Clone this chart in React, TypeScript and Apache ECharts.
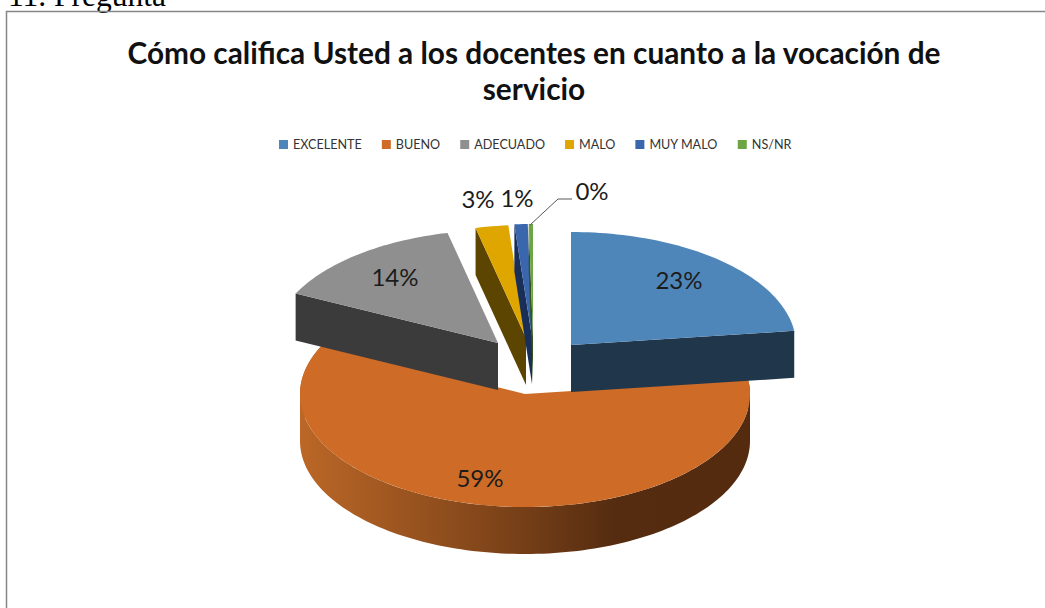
import React, { useEffect, useRef } from "react";
import * as echarts from "echarts";

const categories = ["EXCELENTE", "BUENO", "ADECUADO", "MALO", "MUY MALO", "NS/NR"];
const percentages = [23, 59.2, 14.2, 2.35, 0.95, 0.3];
const percentLabels = ["23%", "59%", "14%", "3%", "1%", "0%"];
const topColors = ["#4f86b9", "#cd6b27", "#8f8f8f", "#e0a600", "#3a66ae", "#6ca544"];
const wallColors = ["#20364b", "#7a4218", "#3b3b3b", "#5c4500", "#1a2f58", "#33521e"];
const explode = [[46, -49], [0, 0], [-27, -51], [1, -56], [7, -57], [8, -57]];
const labelPos = [[679, 279.5], [480, 477.5], [395, 276.5], [478, 198.5], [517, 197.5], [592, 190.5]];
const drawOrder = [1, 0, 2, 3, 4, 5];

const CX = 525, CY = 394, RX = 225, RY = 113, DEPTH = 47;
const FONT = "Lato";

function rimPoint(cx: number, cy: number, deg: number) {
  const r = (deg * Math.PI) / 180;
  return [cx + RX * Math.sin(r), cy - RY * Math.cos(r)];
}

function arcPoints(cx: number, cy: number, from: number, to: number) {
  const n = Math.max(2, Math.ceil(Math.abs(to - from) / 1.5));
  const pts: number[][] = [];
  for (let i = 0; i <= n; i++) pts.push(rimPoint(cx, cy, from + ((to - from) * i) / n));
  return pts;
}

function sliceElements(i: number) {
  const total = percentages.reduce((a, b) => a + b, 0);
  const before = percentages.slice(0, i).reduce((a, b) => a + b, 0);
  const a0 = (before / total) * 360;
  const a1 = ((before + percentages[i]) / total) * 360;
  const cx = CX + explode[i][0];
  const cy = CY + explode[i][1];
  const children: any[] = [];
  const wall = (points: number[][], fill: any) =>
    children.push({ type: "polygon", shape: { points }, style: { fill } });

  const down = (p: number[]) => [p[0], p[1] + DEPTH];
  const apex = [cx, cy];

  // rounded outer wall on the near half of the ellipse
  const frontFrom = Math.max(a0, 90);
  const frontTo = Math.min(a1, 270);
  if (frontTo > frontFrom) {
    const rim = arcPoints(cx, cy, frontFrom, frontTo);
    const fill =
      i === 1
        ? new echarts.graphic.LinearGradient(1, 0, 0, 0, [
            { offset: 0, color: "#542b0f" },
            { offset: 0.3, color: "#552c10" },
            { offset: 0.62, color: "#87491b" },
            { offset: 1, color: "#bb6727" },
          ])
        : wallColors[i];
    wall([...rim, ...rim.slice().reverse().map(down)], fill);
  }
  // orange has its right end going slightly above the horizontal
  if (i === 1) {
    const rim = arcPoints(cx, cy, a0, 90);
    wall([...rim, ...rim.slice().reverse().map(down)], "#542b0f");
    const rim2 = arcPoints(cx, cy, 270, a1);
    wall([...rim2, ...rim2.slice().reverse().map(down)], "#bb6727");
  }
  // cut faces seen from the front
  if (i === 0) {
    const end = rimPoint(cx, cy, a1);
    wall([apex, end, down(end), down(apex)], wallColors[i]);
  } else if (i > 1) {
    const start = rimPoint(cx, cy, a0);
    wall([start, apex, down(apex), down(start)], wallColors[i]);
  }
  // top face
  children.push({
    type: "polygon",
    shape: { points: [apex, ...arcPoints(cx, cy, a0, a1)] },
    style: { fill: topColors[i] },
  });
  // percent label
  children.push({
    type: "text",
    style: {
      text: percentLabels[i],
      x: labelPos[i][0],
      y: labelPos[i][1],
      align: "center",
      verticalAlign: "middle",
      fontFamily: FONT,
      fontSize: 24,
      fill: "#1c1c1c",
    },
  });
  return { type: "group", children };
}

export default function App() {
  const ref = useRef<HTMLDivElement>(null);
  useEffect(() => {
    document.body.style.margin = "0";
    const chart = echarts.init(ref.current!, undefined, { renderer: "svg" });
    chart.setOption({
      animation: false,
      backgroundColor: "#ffffff",
      title: {
        text: "Cómo califica Usted a los docentes en cuanto a la vocación de\nservicio",
        left: 529,
        top: 29.5,
        textAlign: "center",
        textStyle: { fontFamily: FONT, fontSize: 29.8, fontWeight: "bold", color: "#111111", lineHeight: 36 },
      },
      legend: {
        left: 274,
        top: 133,
        icon: "rect",
        itemWidth: 9,
        itemHeight: 9,
        itemGap: 20,
        data: categories,
        textStyle: { fontFamily: FONT, fontSize: 12.6, color: "#333333" },
      },
      graphic: [
        {
          type: "text",
          x: 8,
          y: 11,
          style: {
            text: "11. Pregunta",
            fontFamily: "Liberation Serif",
            fontSize: 31.5,
            fill: "#000000",
            verticalAlign: "bottom",
          },
        },
        {
          type: "rect",
          shape: { x: 6.5, y: 11.5, width: 1100, height: 700 },
          style: { fill: "none", stroke: "#868686", lineWidth: 1.5 },
          silent: true,
        },
        {
          type: "polyline",
          shape: { points: [[530, 225], [558, 199], [572, 199]] },
          style: { fill: "none", stroke: "#595959", lineWidth: 1 },
          z: 10,
        },
      ],
      series: drawOrder.map((i) => ({
        type: "custom",
        name: categories[i],
        coordinateSystem: "none",
        itemStyle: { color: topColors[i] },
        z: 2 + drawOrder.indexOf(i),
        data: [[percentages[i]]],
        renderItem: () => sliceElements(i),
      })),
    });
    return () => chart.dispose();
  }, []);
  return <div ref={ref} style={{ width: 1045, height: 608 }} />;
}
